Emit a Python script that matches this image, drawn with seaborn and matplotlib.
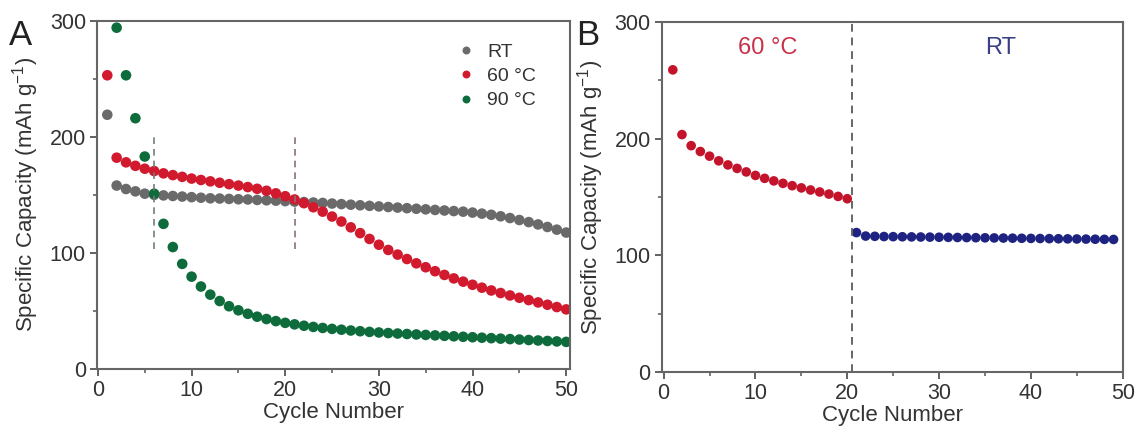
import numpy as np
import pandas as pd
import matplotlib
matplotlib.use("Agg")
import matplotlib.pyplot as plt
from matplotlib.ticker import MultipleLocator
import seaborn as sns

# ── data: panel A (cycle life at three temperatures) ─────────────────────────
cycles_a = list(range(1, 51))
cap_rt = [219, 158, 155, 153, 151, 150, 149.5, 149, 148.5, 148,
          147.5, 147, 146.8, 146.5, 146.2, 146, 145.6, 145.3, 145, 144.6,
          144.2, 143.8, 143.4, 143, 142.5, 142, 141.5, 141, 140.5, 140,
          139.5, 139, 138.5, 138, 137.5, 137, 136.5, 136, 135.5, 134.7,
          133.8, 132.8, 131.5, 130, 128.3, 126.5, 124.5, 122.3, 120, 117.5]
cap_60 = [253, 182, 178, 175, 172.5, 170.5, 168.5, 167, 165.5, 164,
          162.8, 161.6, 160.4, 159.2, 158, 156.7, 155.2, 153.5, 151.3, 148.8,
          146, 142.8, 139.3, 135.5, 131.3, 127, 122, 117, 112, 107,
          102.5, 98.5, 94.7, 91, 87.6, 84.2, 81, 78, 75.2, 72.5,
          70, 67.6, 65.4, 63.3, 61.3, 59.3, 57.3, 55.3, 53.3, 51.3]
cycles_90 = list(range(2, 51))
cap_90 = [294, 253, 216, 183, 151, 125, 105, 90.5, 79.5,
          71, 64, 58.5, 54, 50.5, 47.5, 45, 43, 41.2, 39.7,
          38.4, 37.2, 36.2, 35.3, 34.5, 33.8, 33.1, 32.5, 31.9, 31.4,
          30.9, 30.5, 30.1, 29.7, 29.3, 28.9, 28.5, 28.1, 27.7, 27.3,
          26.9, 26.5, 26.1, 25.7, 25.3, 24.9, 24.5, 24.1, 23.7, 23.3]
marker_cycles_a = [6, 21]

# ── data: panel B (60 °C then RT) ────────────────────────────────────────────
cycles_b_hot = list(range(1, 21))
cap_b_hot = [259, 203.5, 194, 189, 185, 181, 177.5, 174.5, 171.5, 168.5,
             166, 163.8, 161.7, 159.7, 157.8, 156, 154.3, 152.5, 150.5, 148.5]
cycles_b_rt = list(range(21, 50))
cap_b_rt = [119.5, 116.5, 116.3, 116.1, 116, 115.9, 115.8, 115.7, 115.6, 115.5,
            115.4, 115.3, 115.2, 115.1, 115, 114.9, 114.8, 114.7, 114.6, 114.5,
            114.4, 114.3, 114.2, 114.1, 114, 113.9, 113.8, 113.7, 113.6]
switch_cycle_b = 20.5

COLORS = {"RT": "#6a6a6a", "60 °C": "#d11a2e", "90 °C": "#0d6b3c"}
RED_B  = "#c4142c"
BLUE_B = "#1e2382"

sns.set_theme(style="ticks")
plt.rcParams["font.family"] = ["Liberation Sans", "DejaVu Sans"]
plt.rcParams["mathtext.default"] = "regular"

df_a = pd.concat([
    pd.DataFrame({"cycle": cycles_a, "cap": cap_rt, "T": "RT"}),
    pd.DataFrame({"cycle": cycles_a, "cap": cap_60, "T": "60 °C"}),
    pd.DataFrame({"cycle": cycles_90, "cap": cap_90, "T": "90 °C"}),
])
df_b = pd.concat([
    pd.DataFrame({"cycle": cycles_b_hot, "cap": cap_b_hot, "T": "60 °C"}),
    pd.DataFrame({"cycle": cycles_b_rt, "cap": cap_b_rt, "T": "RT"}),
])

fig = plt.figure(figsize=(11.41, 4.32), dpi=100)
ax_a = fig.add_axes([0.085, 0.146, 0.4145, 0.806])
ax_b = fig.add_axes([0.580, 0.139, 0.404, 0.810])


def style_axis(ax):
    ax.set_ylim(0, 300)
    ax.xaxis.set_major_locator(MultipleLocator(10))
    ax.xaxis.set_minor_locator(MultipleLocator(5))
    ax.yaxis.set_major_locator(MultipleLocator(100))
    ax.yaxis.set_minor_locator(MultipleLocator(50))
    ax.tick_params(which="major", direction="out", length=5, width=1.3,
                   color="#555555", labelsize=15.5, labelcolor="#333333", pad=3)
    ax.tick_params(which="minor", direction="out", length=3, width=1.1, color="#555555")
    for sp in ax.spines.values():
        sp.set_color("#666666")
        sp.set_linewidth(1.5)
    ax.set_xlabel("Cycle Number", fontsize=16, color="#333333", labelpad=1)
    ax.set_ylabel("Specific Capacity (mAh g$^{-1}$)", fontsize=16, color="#333333", labelpad=6)


# ── panel A ──────────────────────────────────────────────────────────────────
sns.scatterplot(data=df_a, x="cycle", y="cap", hue="T", palette=COLORS,
                s=58, linewidth=0, ax=ax_a, legend=True)
ax_a.vlines(marker_cycles_a, 103, 201, colors=["#6f7f7a", "#8a6f80"],
            linestyles=(0, (4, 3)), linewidth=1.2)
ax_a.set_xlim(-0.1, 50.4)
style_axis(ax_a)
leg = ax_a.legend(loc="upper left", bbox_to_anchor=(0.71, 0.975), frameon=False,
                  fontsize=14, handletextpad=0.1, labelspacing=0.35,
                  markerscale=0.75, borderpad=0.2)
for t in leg.get_texts():
    t.set_color("#333333")
fig.text(0.008, 0.955, "A", fontsize=25, color="#222222", va="top", ha="left")

# ── panel B ──────────────────────────────────────────────────────────────────
sns.scatterplot(data=df_b, x="cycle", y="cap", hue="T",
                palette={"60 °C": RED_B, "RT": BLUE_B},
                s=48, linewidth=0, ax=ax_b, legend=False)
ax_b.axvline(switch_cycle_b, color="#666666", linestyle=(0, (4, 3)), linewidth=1.4)
ax_b.set_xlim(-0.2, 50)
style_axis(ax_b)
ax_b.text(0.23, 0.925, "60 °C", transform=ax_b.transAxes, fontsize=17,
          color="#c9304a", ha="center", va="center")
ax_b.text(0.735, 0.925, "RT", transform=ax_b.transAxes, fontsize=17,
          color="#3a3f86", ha="center", va="center")
fig.text(0.505, 0.955, "B", fontsize=25, color="#222222", va="top", ha="left")

fig.savefig("out.png", dpi=100)
